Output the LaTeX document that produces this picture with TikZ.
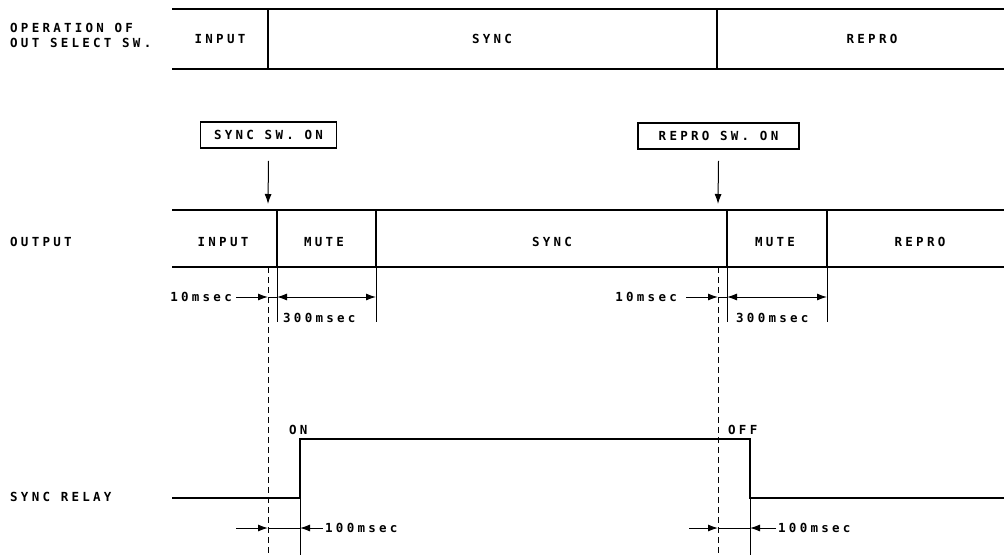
\documentclass[tikz,border=0pt]{standalone}
\usepackage{fontspec}
\newfontfamily\lblfont[LetterSpace=26]{DejaVu Sans Mono Bold}
\usetikzlibrary{arrows.meta}
\begin{document}
\begin{tikzpicture}[x=1pt,y=-1pt,
  lbl/.style={font=\lblfont\fontsize{12.5}{15}\selectfont, inner sep=0pt},
  swbox/.style={lbl, draw, line width=1.6pt, minimum height=26pt},
  rowline/.style={line width=2.4pt},
  divider/.style={line width=2pt},
  thin/.style={line width=1pt},
  tip/.style={-{Latex[length=10pt,width=7pt]}},
  dtip/.style={{Latex[length=10pt,width=7pt]}-{Latex[length=10pt,width=7pt]}},
  dashline/.style={line width=0.9pt, dash pattern=on 6pt off 4pt},
  relay/.style={line width=1.8pt}]
\useasboundingbox (0,0) rectangle (1004,555);

% left labels
\node[lbl,anchor=west] (op1) at (10,28) {OPERATION OF};
\node[lbl,anchor=west] (op2) at (10,43) {OUT SELECT SW.};
\node[lbl,anchor=west] (outl) at (10,242) {OUTPUT};
\node[lbl,anchor=west] (rell) at (10,497) {SYNC RELAY};

% operation row
\draw[rowline] (172,9) -- (1004,9);
\draw[rowline] (172,69) -- (1004,69);
\draw[divider] (268,9) -- (268,69);
\draw[divider] (717,9) -- (717,69);
\node[lbl] (t1) at (220,39) {INPUT};
\node[lbl] (t2) at (492,39) {SYNC};
\node[lbl] (t3) at (872,39) {REPRO};

% switch boxes and arrows
\node[swbox, minimum width=136pt] (b1) at (268.5,135) {SYNC SW. ON};
\node[swbox, minimum width=161pt] (b2) at (718.5,136) {REPRO SW. ON};
\coordinate (a1) at (268,204);
\coordinate (a2) at (718,204);
\draw[thin,tip] ([yshift=-12pt]b1.south) -- (a1);
\draw[thin,tip] ([yshift=-11pt]b2.south) -- (a2);

% output row
\draw[rowline] (172,210) -- (1004,210);
\draw[rowline] (172,267) -- (1004,267);
\draw[divider] (277,210) -- (277,267);
\draw[divider] (376,210) -- (376,267);
\draw[divider] (727,210) -- (727,267);
\draw[divider] (827,210) -- (827,267);
\node[lbl] (o1) at (223,242) {INPUT};
\node[lbl] (o2) at (324,242) {MUTE};
\node[lbl] (o3) at (552,242) {SYNC};
\node[lbl] (o4) at (775,242) {MUTE};
\node[lbl] (o5) at (920,242) {REPRO};

% dashed reference lines
\draw[dashline] (268,267) -- (268,555);
\draw[dashline] (718,267) -- (718,555);

% extension lines
\draw[thin] (277,267) -- (277,322);
\draw[thin] (376,267) -- (376,322);
\draw[thin] (727,267) -- (727,322);
\draw[thin] (827,267) -- (827,322);

% 10msec / 300msec (first)
\node[lbl,anchor=east] (d10a) at (232,297) {10msec};
\draw[thin,tip] (236,297) -- (268,297);
\draw[thin] (268,297) -- (277,297);
\draw[thin,dtip] (277,297) -- (376,297);
\node[lbl,anchor=west] (d300a) at (283,318) {300msec};

% 10msec / 300msec (second)
\node[lbl,anchor=east] (d10b) at (677,297) {10msec};
\draw[thin,tip] (686,297) -- (718,297);
\draw[thin] (718,297) -- (727,297);
\draw[thin,dtip] (727,297) -- (827,297);
\node[lbl,anchor=west] (d300b) at (736,318) {300msec};

% sync relay
\draw[relay] (172,498) -- (300,498) -- (300,439) -- (750,439) -- (750,498) -- (1004,498);
\node[lbl,anchor=base west] (on) at (289,434.5) {ON};
\node[lbl,anchor=base west] (off) at (728,434.5) {OFF};
\draw[thin] (300,498) -- (300,555);
\draw[thin] (750,498) -- (750,555);

% 100msec (first)
\draw[thin,tip] (236,528) -- (268,528);
\draw[thin] (268,528) -- (300,528);
\draw[thin,tip] (323,528) -- (300,528);
\node[lbl,anchor=west] (d100a) at (325,528) {100msec};

% 100msec (second)
\draw[thin,tip] (689,528) -- (718,528);
\draw[thin] (718,528) -- (750,528);
\draw[thin,tip] (776,528) -- (750,528);
\node[lbl,anchor=west] (d100b) at (778,528) {100msec};
\end{tikzpicture}
\end{document}
